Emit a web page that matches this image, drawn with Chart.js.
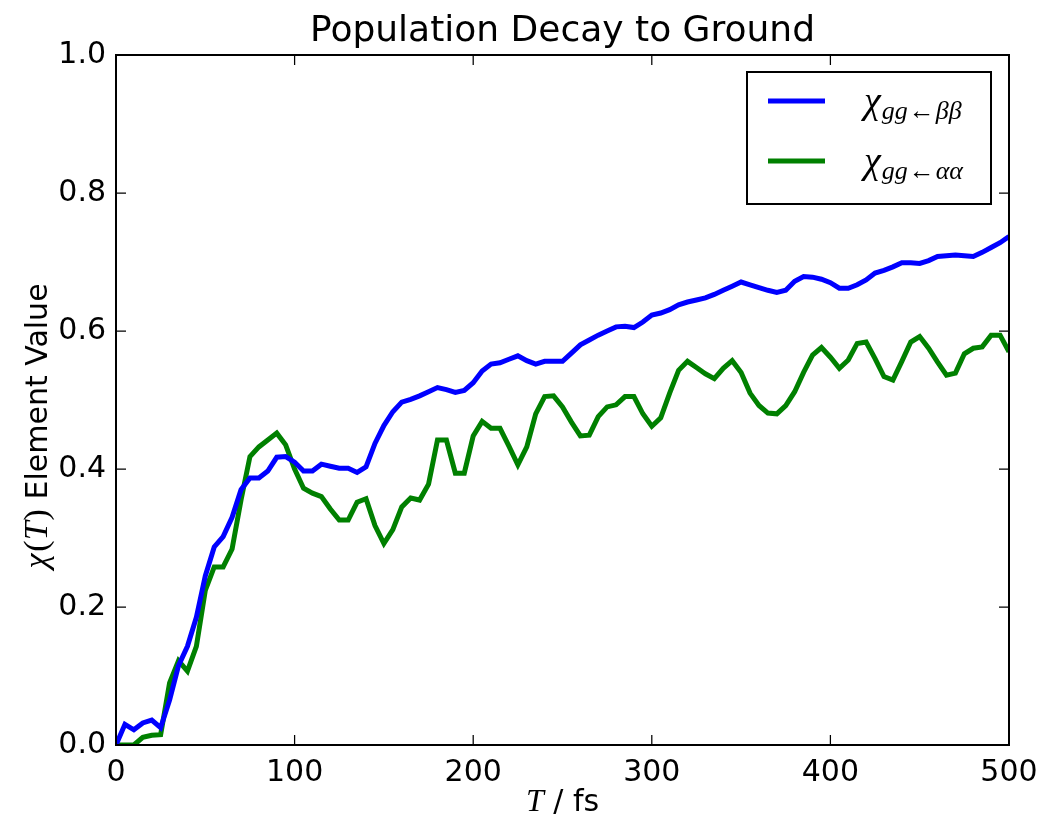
<!DOCTYPE html>
<html>
<head>
<meta charset="utf-8">
<title>Population Decay to Ground</title>
<script src="https://cdn.jsdelivr.net/npm/chart.js@4.4.0/dist/chart.umd.min.js"></script>
<style>
html, body { margin: 0; padding: 0; background: #fff; }
#wrap { width: 1041px; height: 823px; }
</style>
</head>
<body>
<div id="wrap"><canvas id="decayChart" width="1041" height="823"></canvas></div>
<script>
// time grid (fs), one sample every 5 fs
const times = [
  0, 5, 10, 15, 20, 25, 30, 35, 40, 45, 50, 55, 60, 65, 70, 75, 80, 85, 90, 95,
  100, 105, 110, 115, 120, 125, 130, 135, 140, 145, 150, 155, 160, 165, 170, 175, 180, 185, 190, 195,
  200, 205, 210, 215, 220, 225, 230, 235, 240, 245, 250, 255, 260, 265, 270, 275, 280, 285, 290, 295,
  300, 305, 310, 315, 320, 325, 330, 335, 340, 345, 350, 355, 360, 365, 370, 375, 380, 385, 390, 395,
  400, 405, 410, 415, 420, 425, 430, 435, 440, 445, 450, 455, 460, 465, 470, 475, 480, 485, 490, 495,
  500
];

// chi_{gg <- beta beta}
const chiBetaBeta = [
  0.000, 0.030, 0.022, 0.032, 0.036, 0.025, 0.065, 0.115, 0.143, 0.185,
  0.245, 0.287, 0.302, 0.330, 0.370, 0.387, 0.387, 0.397, 0.417, 0.418,
  0.410, 0.397, 0.397, 0.407, 0.404, 0.401, 0.401, 0.395, 0.403, 0.437,
  0.463, 0.483, 0.497, 0.501, 0.506, 0.512, 0.518, 0.515, 0.511, 0.514,
  0.525, 0.542, 0.552, 0.554, 0.559, 0.564, 0.557, 0.552, 0.556, 0.556,
  0.556, 0.568, 0.580, 0.587, 0.594, 0.600, 0.606, 0.607, 0.605, 0.613,
  0.623, 0.626, 0.631, 0.638, 0.642, 0.645, 0.648, 0.653, 0.659, 0.665,
  0.671, 0.667, 0.663, 0.659, 0.656, 0.659, 0.672, 0.679, 0.678, 0.675,
  0.670, 0.662, 0.662, 0.667, 0.674, 0.684, 0.688, 0.693, 0.699, 0.699,
  0.698, 0.702, 0.708, 0.709, 0.710, 0.709, 0.708, 0.714, 0.721, 0.728,
  0.737
];

// chi_{gg <- alpha alpha}
const chiAlphaAlpha = [
  0.000, 0.000, 0.000, 0.011, 0.014, 0.015, 0.090, 0.122, 0.107, 0.143,
  0.224, 0.258, 0.258, 0.284, 0.355, 0.418, 0.432, 0.442, 0.452, 0.435,
  0.400, 0.372, 0.365, 0.360, 0.342, 0.326, 0.326, 0.352, 0.357, 0.318,
  0.292, 0.312, 0.345, 0.358, 0.355, 0.378, 0.442, 0.442, 0.394, 0.394,
  0.448, 0.469, 0.459, 0.459, 0.433, 0.406, 0.432, 0.480, 0.505, 0.506,
  0.490, 0.468, 0.448, 0.449, 0.476, 0.490, 0.493, 0.505, 0.505, 0.480,
  0.462, 0.474, 0.510, 0.543, 0.556, 0.547, 0.538, 0.531, 0.546, 0.557,
  0.540, 0.510, 0.492, 0.481, 0.480, 0.492, 0.512, 0.540, 0.565, 0.576,
  0.562, 0.546, 0.558, 0.582, 0.584, 0.560, 0.534, 0.529, 0.556, 0.584,
  0.592, 0.575, 0.555, 0.536, 0.539, 0.567, 0.575, 0.577, 0.594, 0.594,
  0.570
];

const xTicks = [0, 100, 200, 300, 400, 500];
const yTicks = [0, 0.2, 0.4, 0.6, 0.8, 1.0];

const serif = 'Liberation Serif';
const sans = 'DejaVu Sans';

// legend entries: subscript pieces (italic flag) after the chi
const legendItems = [
  { color: '#0000ff', sub: [['gg', true], ['\u2190', false], ['\u03b2\u03b2', true]] },
  { color: '#008000', sub: [['gg', true], ['\u2190', false], ['\u03b1\u03b1', true]] }
];

// draw a row of text pieces with their own fonts, starting at x
function drawRuns(ctx, runs, x, y) {
  let cx = x;
  runs.forEach(r => {
    ctx.font = r.font;
    ctx.fillText(r.text, cx, y + (r.dy || 0));
    cx += ctx.measureText(r.text).width + (r.gap || 0);
  });
  return cx;
}

function runsWidth(ctx, runs) {
  let w = 0;
  runs.forEach(r => { ctx.font = r.font; w += ctx.measureText(r.text).width + (r.gap || 0); });
  return w;
}

const frameAndTicks = {
  id: 'frameAndTicks',
  afterDatasetsDraw(chart) {
    const { ctx, chartArea: a, scales: { x, y } } = chart;
    ctx.save();
    ctx.strokeStyle = '#000';

    // inward ticks on all four sides
    ctx.lineWidth = 1.25;
    ctx.beginPath();
    xTicks.forEach(v => {
      const px = x.getPixelForValue(v);
      ctx.moveTo(px, a.bottom); ctx.lineTo(px, a.bottom - 10);
      ctx.moveTo(px, a.top); ctx.lineTo(px, a.top + 10);
    });
    yTicks.forEach(v => {
      const py = y.getPixelForValue(v);
      ctx.moveTo(a.left, py); ctx.lineTo(a.left + 10, py);
      ctx.moveTo(a.right, py); ctx.lineTo(a.right - 10, py);
    });
    ctx.stroke();

    ctx.lineWidth = 2;
    ctx.strokeRect(a.left, a.top, a.right - a.left, a.bottom - a.top);

    // legend box
    const lx = 747, ly = 72, lw = 244, lh = 132;
    ctx.fillStyle = '#fff';
    ctx.fillRect(lx, ly, lw, lh);
    ctx.lineWidth = 2;
    ctx.strokeRect(lx, ly, lw, lh);

    legendItems.forEach((item, i) => {
      const rowY = 101 + i * 60;
      ctx.strokeStyle = item.color;
      ctx.lineWidth = 5;
      ctx.beginPath();
      ctx.moveTo(768, rowY);
      ctx.lineTo(825, rowY);
      ctx.stroke();

      ctx.fillStyle = '#000';
      ctx.textAlign = 'left';
      ctx.textBaseline = 'alphabetic';
      const runs = [{ text: '\u03c7', font: 'italic 38px ' + serif, gap: 1 }];
      item.sub.forEach(([t, it]) => {
        runs.push({ text: t, font: (it ? 'italic ' : '') + '26px ' + serif, dy: 6, gap: 1 });
      });
      drawRuns(ctx, runs, 864, rowY + 12);
    });
    ctx.restore();
  },
  afterDraw(chart) {
    const { ctx, chartArea: a } = chart;
    ctx.save();
    ctx.fillStyle = '#000';
    ctx.textAlign = 'left';
    ctx.textBaseline = 'alphabetic';

    // x axis title
    const xRuns = [
      { text: 'T', font: 'italic 32px ' + serif },
      { text: ' / fs', font: '30px ' + sans }
    ];
    const xw = runsWidth(ctx, xRuns);
    drawRuns(ctx, xRuns, (a.left + a.right) / 2 - xw / 2, 811);

    // y axis title (rotated)
    const yRuns = [
      { text: '\u03c7', font: 'italic 34px ' + serif, gap: 2 },
      { text: '(', font: '34px ' + serif },
      { text: 'T', font: 'italic 34px ' + serif, gap: 1 },
      { text: ')', font: '34px ' + serif },
      { text: ' Element Value', font: '30px ' + sans }
    ];
    const yw = runsWidth(ctx, yRuns);
    ctx.translate(47, 426);
    ctx.rotate(-Math.PI / 2);
    drawRuns(ctx, yRuns, -yw / 2, 0);
    ctx.restore();
  }
};

Chart.defaults.font.family = sans;
Chart.defaults.color = '#000';

const ctx = document.getElementById('decayChart').getContext('2d');

new Chart(ctx, {
  type: 'line',
  data: {
    datasets: [
      {
        label: '\u03c7gg\u2190\u03b2\u03b2',
        data: times.map((t, i) => ({ x: t, y: chiBetaBeta[i] })),
        borderColor: '#0000ff',
        borderWidth: 5,
        pointRadius: 0,
        tension: 0,
        fill: false
      },
      {
        label: '\u03c7gg\u2190\u03b1\u03b1',
        data: times.map((t, i) => ({ x: t, y: chiAlphaAlpha[i] })),
        borderColor: '#008000',
        borderWidth: 5,
        pointRadius: 0,
        tension: 0,
        fill: false
      }
    ]
  },
  options: {
    responsive: false,
    animation: false,
    devicePixelRatio: 1,
    layout: { padding: { left: 0, right: 32, top: 0, bottom: 0 } },
    plugins: {
      legend: { display: false },
      tooltip: { enabled: false },
      title: {
        display: true,
        text: 'Population Decay to Ground',
        fullSize: false,
        color: '#000',
        font: { family: sans, size: 36, weight: 'normal', lineHeight: 1 },
        padding: { top: 14, bottom: 5 }
      }
    },
    scales: {
      x: {
        type: 'linear',
        min: 0,
        max: 500,
        grid: { display: false, drawTicks: false },
        border: { display: false },
        ticks: {
          stepSize: 100,
          padding: 10,
          maxRotation: 0,
          font: { size: 30 },
          color: '#000'
        },
        afterFit(scale) {
          scale.height = 78;
          scale.paddingLeft = 0;
          scale.paddingRight = 0;
        }
      },
      y: {
        min: 0,
        max: 1,
        grid: { display: false, drawTicks: false },
        border: { display: false },
        ticks: {
          stepSize: 0.2,
          padding: 10,
          font: { size: 30 },
          color: '#000',
          callback: v => v.toFixed(1)
        },
        afterFit(scale) {
          scale.width = 116;
          scale.paddingTop = 0;
          scale.paddingBottom = 0;
        }
      }
    }
  },
  plugins: [frameAndTicks]
});
</script>
</body>
</html>
